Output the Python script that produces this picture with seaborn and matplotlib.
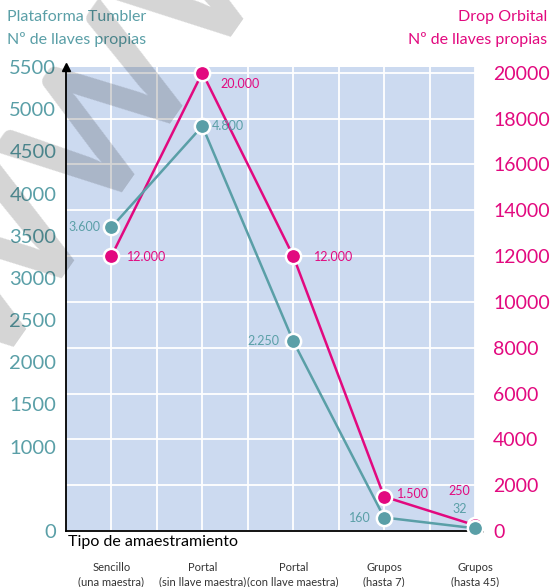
import seaborn as sns
import matplotlib.pyplot as plt
import pandas as pd
import numpy as np

# Datos
categorias = ['Sencillo\n(una maestra)', 'Portal\n(sin llave maestra)', 'Portal\n(con llave maestra)',
              'Grupos\n(hasta 7)', 'Grupos\n(hasta 45)']
tumbler = [3600, 4800, 2250, 160, 32]
orbital = [12000, 20000, 12000, 1500, 250]
ticks_tumbler = [0, 1000, 1500, 2000, 2500, 3000, 3500, 4000, 4500, 5000, 5500]
ticks_orbital = [0, 2000, 4000, 6000, 8000, 10000, 12000, 14000, 16000, 18000, 20000]

# Colores
teal = '#5A9FA7'
magenta = '#E2097F'
fondo = '#CCDAF0'

plt.rcParams['font.family'] = ['Lato', 'DejaVu Sans']

df_t = pd.DataFrame({'pos': np.arange(len(categorias)), 'valor': tumbler})
df_o = pd.DataFrame({'pos': np.arange(len(categorias)), 'valor': orbital})

fig = plt.figure(figsize=(5.5, 5.87), dpi=100)
ax = fig.add_axes([66 / 550, 1 - 531 / 587, (475 - 66) / 550, (531 - 67) / 587])
ax2 = ax.twinx()

# eje de Drop Orbital (derecha) va en ax, Tumbler (izquierda) en ax2 encima
ax.yaxis.tick_right()
ax2.yaxis.tick_left()

ax.set_facecolor(fondo)
sns.lineplot(data=df_o, x='pos', y='valor', ax=ax, color=magenta, lw=1.8, marker='o',
             markersize=11, markeredgecolor='white', markeredgewidth=1.8, clip_on=False, zorder=5)
sns.lineplot(data=df_t, x='pos', y='valor', ax=ax2, color=teal, lw=1.8, marker='o',
             markersize=11, markeredgecolor='white', markeredgewidth=1.8, clip_on=False, zorder=5)

ax.set_xlim(-0.5, 4)
ax.set_ylim(0, 20250)
ax2.set_ylim(0, 5500)

# rejilla
ax.set_xticks(np.arange(len(categorias)))
ax.set_xticks(np.arange(0, 4, 0.5), minor=True)
ax.set_xticklabels(categorias, fontsize=8, color='#333333', linespacing=1.45)
ax.tick_params(axis='x', which='both', length=0, pad=22)
ax.grid(True, axis='x', which='both', color='white', lw=1.3)
ax.grid(True, axis='y', color='white', lw=1.3)
ax.set_axisbelow(True)

ax.set_yticks(ticks_orbital)
ax.set_yticklabels([str(v) for v in ticks_orbital], color=magenta, fontsize=14)
ax.tick_params(axis='y', length=0, pad=13)

ax2.set_yticks(ticks_tumbler)
ax2.set_yticklabels([str(v) for v in ticks_tumbler], color=teal, fontsize=14.5)
ax2.tick_params(axis='y', length=0, pad=7)

ax.set_xlabel('')
ax.set_ylabel('')
ax2.set_ylabel('')

for s in ['top', 'right']:
    ax.spines[s].set_visible(False)
for s in ax2.spines.values():
    s.set_visible(False)
ax.spines['left'].set_linewidth(1.3)
ax.spines['bottom'].set_linewidth(1.3)
ax.plot(0, 1, marker='^', color='black', ms=6, transform=ax.transAxes, clip_on=False)
ax.plot(1.01, 0, marker='>', color='black', ms=6, transform=ax.transAxes, clip_on=False)

# etiquetas de valores
def fmt(v):
    return f'{v:,}'.replace(',', '.')

off_t = [(-8, 0, 'right'), (7, 0, 'left'), (-10, 0, 'right'), (-10, 0, 'right'), (-11, 14, 'center')]
off_o = [(11, -1, 'left'), (13, -8, 'left'), (15, -1, 'left'), (9, 2, 'left'), (-11, 25, 'center')]
for i, v in enumerate(tumbler):
    dx, dy, ha = off_t[i]
    ax2.annotate(fmt(v), (i, v), xytext=(dx, dy), textcoords='offset points', ha=ha, va='center',
                 color=teal, fontsize=9, zorder=6)
for i, v in enumerate(orbital):
    dx, dy, ha = off_o[i]
    ax.annotate(fmt(v), (i, v), xytext=(dx, dy), textcoords='offset points', ha=ha, va='center',
                color=magenta, fontsize=9, zorder=6)

# textos
fig.text(7 / 550, 1 - 10 / 587, 'Plataforma Tumbler\nNº de llaves propias', color=teal, fontsize=11.5,
         ha='left', va='top', linespacing=1.65)
fig.text(547 / 550, 1 - 10 / 587, 'Drop Orbital\nNº de llaves propias', color=magenta, fontsize=11.5,
         ha='right', va='top', linespacing=1.65)
fig.text(68 / 550, 1 - 542 / 587, 'Tipo de amaestramiento', color='black', fontsize=11.5,
         ha='left', va='center')

# marca de agua
fig.text(0.2, 0.8, 'WWW', fontsize=130, fontweight='bold', color='black', alpha=0.17,
         rotation=55, ha='center', va='center', zorder=10)

plt.savefig('out.png', dpi=100)
